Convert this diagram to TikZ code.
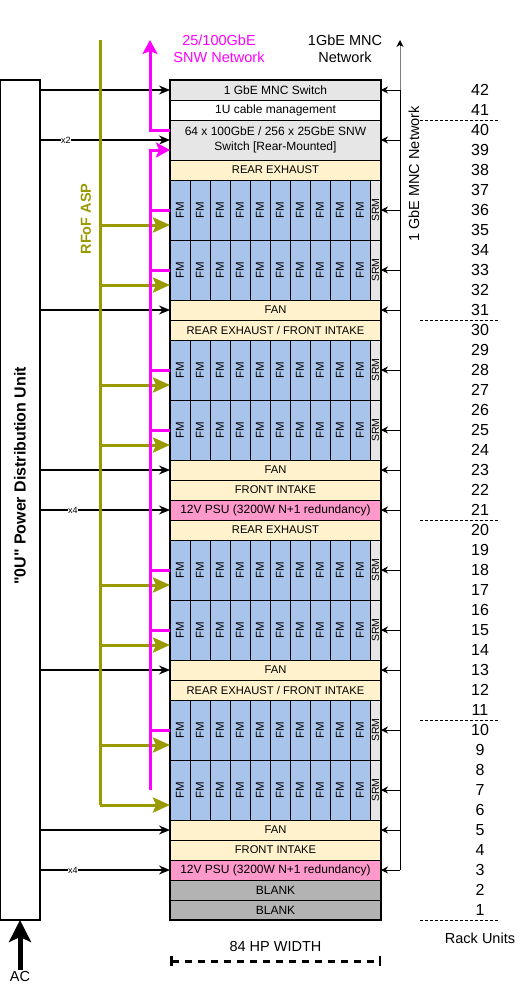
\documentclass[tikz,border=0pt]{standalone}
\usepackage{fontspec}
\setmainfont{Liberation Sans}
\usetikzlibrary{arrows.meta, positioning, calc}

\definecolor{swgray}{HTML}{E6E6E6}
\definecolor{airyellow}{HTML}{FFF2CC}
\definecolor{fmblue}{HTML}{A9C4EB}
\definecolor{psupink}{HTML}{FF99CC}
\definecolor{blankgray}{HTML}{B3B3B3}
\definecolor{aspolive}{HTML}{999900}
\definecolor{snwmagenta}{HTML}{FF00FF}

% straight double quote, past the TeX ligature mapping
\newcommand{\plainquote}{\XeTeXglyph\XeTeXcharglyph34\relax}

\tikzset{
  slot/.style={draw, line width=1pt, outer sep=0pt, inner sep=0pt, minimum width=211pt,
    minimum height=20pt, align=center, font=\fontsize{12}{14.3}\selectfont},
  airslot/.style={slot, fill=airyellow, font=\fontsize{11.2}{13}\selectfont},
  fmcell/.style={draw, line width=1pt, fill=fmblue, rotate=90, minimum width=60pt,
    minimum height=20pt, inner sep=0pt, outer sep=0pt, font=\fontsize{11.5}{13}\selectfont},
  srmcell/.style={fmcell, fill=swgray, minimum height=11pt, font=\fontsize{10.5}{12}\selectfont},
  rackframe/.style={line width=2.5pt},
  pwrline/.style={line width=1.5pt, -{Stealth[length=11pt,width=9pt]}},
  mncline/.style={line width=1pt},
  mncarrow/.style={mncline, -{Stealth[length=7pt,width=7pt]}},
  aspline/.style={line width=3pt, draw=aspolive},
  asparrow/.style={aspline, -{Stealth[length=17pt,width=15pt,inset=3pt]}},
  snwline/.style={line width=3pt, draw=snwmagenta},
  snwarrow/.style={snwline, -{Stealth[length=14pt,width=15pt,inset=3pt]}},
  mult/.style={fill=white, inner sep=0.5pt, font=\fontsize{9}{10}\selectfont},
  bigtext/.style={font=\fontsize{14.5}{16.5}\selectfont, align=center, inner sep=1pt},
  rutext/.style={font=\fontsize{16}{18}\selectfont, inner sep=0pt},
  rudash/.style={line width=0.8pt, dash pattern=on 3pt off 2pt},
  dimline/.style={line width=3pt, dash pattern=on 7pt off 6pt, {Bar[width=10pt,line width=2.5pt]}-{Bar[width=10pt,line width=2.5pt]}}
}

\begin{document}
\begin{tikzpicture}[x=1pt, y=-1pt, >=Stealth]
  \useasboundingbox (0,0) rectangle (521,990);

  % rack, top to bottom
  \node[slot, fill=swgray, anchor=north west] (mncsw) at (170,80) {1 GbE MNC Switch};
  \node[slot, below=0pt of mncsw] (cabmgmt) {1U cable management};
  \node[slot, fill=swgray, minimum height=40pt, below=0pt of cabmgmt] (snwsw) {64 x 100GbE / 256 x 25GbE SNW\\Switch [Rear-Mounted]};
  \node[airslot, below=0pt of snwsw] (exhA) {REAR EXHAUST};
  \node[slot, minimum height=60pt, below=0pt of exhA] (fmb1) {};
  \node[slot, minimum height=60pt, below=0pt of fmb1] (fmb2) {};
  \node[airslot, below=0pt of fmb2] (fanA) {FAN};
  \node[airslot, below=0pt of fanA] (exhB) {REAR EXHAUST / FRONT INTAKE};
  \node[slot, minimum height=60pt, below=0pt of exhB] (fmb3) {};
  \node[slot, minimum height=60pt, below=0pt of fmb3] (fmb4) {};
  \node[airslot, below=0pt of fmb4] (fanB) {FAN};
  \node[airslot, below=0pt of fanB] (intA) {FRONT INTAKE};
  \node[slot, fill=psupink, below=0pt of intA] (psuA) {12V PSU (3200W N+1 redundancy)};
  \node[airslot, below=0pt of psuA] (exhC) {REAR EXHAUST};
  \node[slot, minimum height=60pt, below=0pt of exhC] (fmb5) {};
  \node[slot, minimum height=60pt, below=0pt of fmb5] (fmb6) {};
  \node[airslot, below=0pt of fmb6] (fanC) {FAN};
  \node[airslot, below=0pt of fanC] (exhD) {REAR EXHAUST / FRONT INTAKE};
  \node[slot, minimum height=60pt, below=0pt of exhD] (fmb7) {};
  \node[slot, minimum height=60pt, below=0pt of fmb7] (fmb8) {};
  \node[airslot, below=0pt of fmb8] (fanD) {FAN};
  \node[airslot, below=0pt of fanD] (intB) {FRONT INTAKE};
  \node[slot, fill=psupink, below=0pt of intB] (psuB) {12V PSU (3200W N+1 redundancy)};
  \node[slot, fill=blankgray, below=0pt of psuB] (blankA) {BLANK};
  \node[slot, fill=blankgray, below=0pt of blankA] (blankB) {BLANK};

  % FM and SRM modules
  \foreach \b in {1,...,8} {
    \foreach \c in {0,...,9}
      \node[fmcell] (fm\b-\c) at ([xshift=\c*20pt+10pt]fmb\b.west) {FM};
    \node[srmcell] (srm\b) at ([xshift=-5.5pt]fmb\b.east) {SRM};
  }
  \draw[rackframe] (mncsw.north west) rectangle (blankB.south east);

  % power distribution
  \node[draw, line width=1.5pt, minimum width=40pt, minimum height=840pt, inner sep=0pt, outer sep=0pt] (pdu) at (20,500) {};
  \node[rotate=90, font=\fontsize{16}{18}\selectfont\bfseries] (pdulabel) at (20,476) {\plainquote0U\plainquote{} Power Distribution Unit};
  \foreach \n in {mncsw, snwsw, fanA, fanB, psuA, fanC, fanD, psuB}
    \draw[pwrline] (pdu.east |- \n.west) -- (\n.west);
  \node[mult] (multA) at ($(pdu.east |- snwsw.west)+(26,0)$) {x2};
  \node[mult] (multB) at ($(pdu.east |- psuA.west)+(33,0)$) {x4};
  \node[mult] (multC) at ($(pdu.east |- psuB.west)+(33,0)$) {x4};
  \node[bigtext] (aclabel) at (20,976) {AC};
  \draw[line width=5pt, -{Stealth[length=22pt,width=22pt,inset=5pt]}] (aclabel.north) -- (pdu.south);

  % RFoF ASP feed
  \coordinate (asptop) at (100,40);
  \foreach \b in {1,...,8}
    \coordinate (aspin\b) at ([yshift=-15pt]fmb\b.west);
  \draw[aspline] (asptop) -- (asptop |- aspin8);
  \foreach \b in {1,...,8}
    \draw[asparrow] (asptop |- aspin\b) -- (aspin\b);
  \node[rotate=90, text=aspolive, font=\fontsize{14.5}{16}\selectfont\bfseries] (asplabel) at (86,219) {RFoF ASP};

  % SNW network
  \coordinate (snwtop) at (150,40);
  \coordinate (snwin) at ([yshift=-10pt]snwsw.west);
  \draw[snwarrow] ([yshift=10pt]snwsw.west) -| (snwtop);
  \foreach \b in {1,...,7}
    \draw[snwline] (fmb\b.west) -- (snwtop |- fmb\b.west);
  \draw[snwarrow] (snwtop |- fmb8.west) |- (snwin);
  \node[bigtext, text=snwmagenta] (snwlabel) at (219,49) {25/100GbE\\SNW Network};

  % MNC network
  \coordinate (mnctop) at (400,40);
  \draw[mncline] (mnctop |- mncsw.east) -- (mnctop |- psuB.east);
  \draw[mncline, draw=gray] (mnctop |- mncsw.east) -- ([yshift=-5pt]mnctop);
  \draw[mncarrow] ([yshift=-6pt]mnctop) -- (mnctop);
  \foreach \n in {mncsw, snwsw, fmb1, fmb2, fanA, fmb3, fmb4, fanB, psuA, fmb5, fmb6, fanC, fmb7, fmb8, fanD, psuB}
    \draw[mncarrow] (mnctop |- \n.east) -- (\n.east);
  \node[bigtext] (mnclabel) at (345,49) {1GbE MNC\\Network};
  \node[bigtext, rotate=90] (mncvert) at (414,174) {1 GbE MNC Network};

  % rack units
  \foreach \u in {1,...,42}
    \node[rutext] (ru\u) at (480,{90+(42-\u)*20}) {\u};
  \foreach \yy in {120,320,520,720,920}
    \draw[rudash] (420,\yy) -- (500,\yy);
  \node[bigtext] (rulabel) at (480,938) {Rack Units};

  % width
  \coordinate (dimL) at ($(blankB.south west)+(0,41)$);
  \coordinate (dimR) at ($(blankB.south east)+(0,41)$);
  \draw[dimline] (dimL) -- (dimR);
  \node[bigtext] (dimtext) at (275.5,946) {84 HP WIDTH};
\end{tikzpicture}
\end{document}
